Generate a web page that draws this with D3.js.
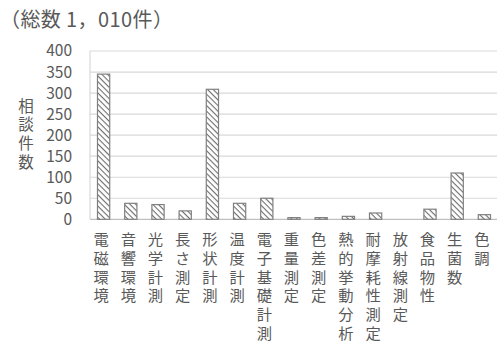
<!DOCTYPE html>
<html lang="ja">
<head>
<meta charset="utf-8">
<script src="https://cdn.jsdelivr.net/npm/d3@7"></script>
<style>
  html, body { margin: 0; padding: 0; background: #fff; }
  svg { display: block; }
  text { font-family: "Noto Sans CJK JP", "Noto Sans", sans-serif; fill: #595959; }
  .vert { writing-mode: vertical-rl; text-orientation: upright; }
</style>
</head>
<body>
<svg id="chart" width="497" height="345"></svg>
<script>
// 相談分野ごとの相談件数
const categories = ["電磁環境", "音響環境", "光学計測", "長さ測定", "形状計測", "温度計測", "電子基礎計測",
  "重量測定", "色差測定", "熱的挙動分析", "耐摩耗性測定", "放射線測定", "食品物性", "生菌数", "色調"];
const counts = [345, 38, 35, 20, 309, 38, 50, 4, 4, 7, 15, 0, 24, 110, 11];
const yTicks = [0, 50, 100, 150, 200, 250, 300, 350, 400];
const title = "（総数 1，010件）";
const yTitle = "相談件数";

const svg = d3.select("#chart");
const plotLeft = 90, plotRight = 498, plotTop = 51, plotBottom = 219.3;

const x = d3.scaleBand().domain(categories).range([plotLeft, plotRight])
  .paddingInner(0.55).paddingOuter(0.275);
const y = d3.scaleLinear().domain([0, 400]).range([plotBottom, plotTop]);

// 斜線ハッチング（左上から右下へ）
const defs = svg.append("defs");
const pat = defs.append("pattern").attr("id", "hatch")
  .attr("patternUnits", "userSpaceOnUse").attr("width", 4).attr("height", 4)
  .attr("patternTransform", "rotate(45)");
pat.append("rect").attr("width", 4).attr("height", 4).attr("fill", "#fff");
pat.append("line").attr("x1", 0).attr("y1", 0).attr("x2", 4).attr("y2", 0)
  .attr("stroke", "#6e6e6e").attr("stroke-width", 2.2);

// 目盛線
svg.append("g").selectAll("line").data(yTicks).join("line")
  .attr("x1", plotLeft).attr("x2", 497)
  .attr("y1", d => y(d)).attr("y2", d => y(d))
  .attr("stroke", d => d === 0 ? "#bfbfbf" : "#d9d9d9").attr("stroke-width", 1.2);
svg.append("line").attr("x1", plotLeft).attr("x2", plotLeft).attr("y1", plotTop).attr("y2", plotBottom)
  .attr("stroke", "#d9d9d9").attr("stroke-width", 1.2);

// 縦軸ラベル
const yAxis = d3.axisLeft(y).tickValues(yTicks).tickSize(0).tickPadding(0);
const ga = svg.append("g").attr("transform", "translate(72,0)").call(yAxis);
ga.select(".domain").remove();
ga.selectAll("text").attr("font-size", 15.5).style("fill", "#595959")
  .attr("font-family", "\"Noto Sans CJK JP\", sans-serif");

// 棒
svg.append("g").selectAll("rect").data(categories.map((c, i) => ({ c, v: counts[i] })).filter(d => d.v > 0))
  .join("rect")
  .attr("x", d => x(d.c)).attr("width", x.bandwidth())
  .attr("y", d => y(d.v)).attr("height", d => y(0) - y(d.v))
  .attr("fill", "url(#hatch)").attr("stroke", "#808080").attr("stroke-width", 1.2);

// 横軸ラベル（縦書き）
svg.append("g").selectAll("text").data(categories).join("text")
  .attr("class", "vert")
  .attr("x", c => x(c) + x.bandwidth() / 2 - 2.5)
  .attr("y", 231.5)
  .attr("font-size", 15.3).attr("letter-spacing", 3.5)
  .text(c => c);

// 縦軸タイトル
svg.append("text").attr("class", "vert")
  .attr("x", 26).attr("y", 98)
  .attr("font-size", 15.5).attr("letter-spacing", 3.2)
  .text(yTitle);

// 表題
svg.append("text").attr("x", 0).attr("y", 27).attr("font-size", 20)
  .attr("letter-spacing", 0.4).text(title);
</script>
</body>
</html>
